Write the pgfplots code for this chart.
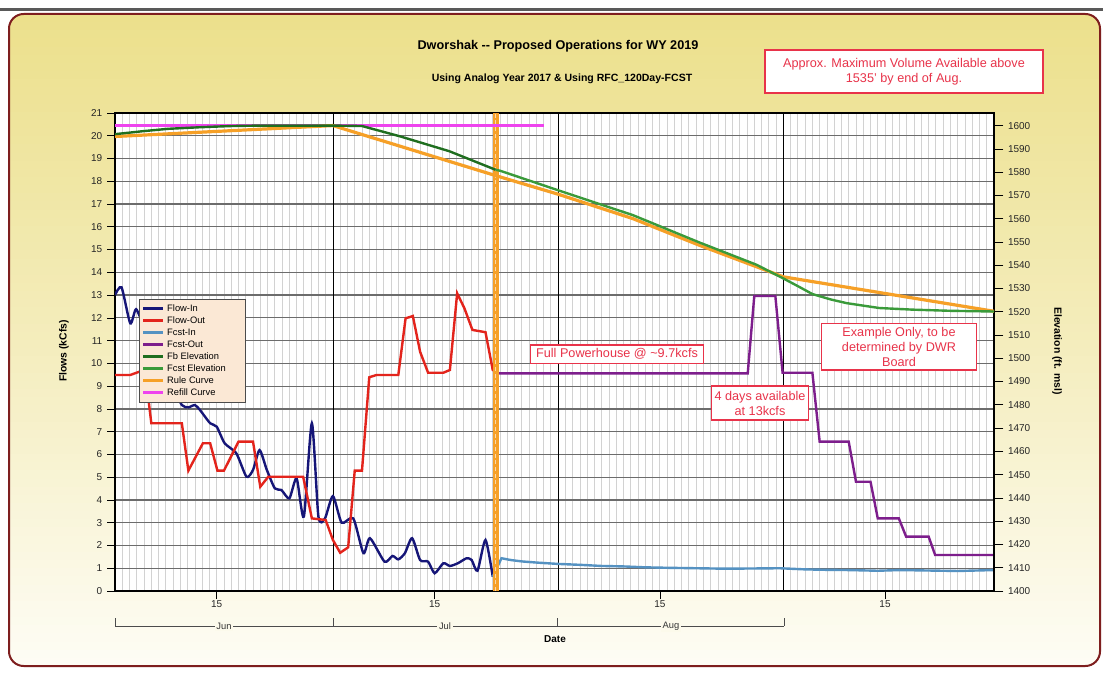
\documentclass[border=0pt]{standalone}
\usepackage{fontspec}
\setmainfont{Liberation Sans}
\usepackage{pgfplots}
\pgfplotsset{compat=1.18}

\definecolor{flowin}{HTML}{161678}
\definecolor{flowout}{HTML}{E3241C}
\definecolor{fcstin}{HTML}{5592C2}
\definecolor{fcstout}{HTML}{7D1E8C}
\definecolor{fbelev}{HTML}{1F6E1F}
\definecolor{fcstelev}{HTML}{3A9A3A}
\definecolor{rulec}{HTML}{F6A027}
\definecolor{refill}{HTML}{EE44EE}
\definecolor{annred}{HTML}{E8334A}
\definecolor{bgtop}{HTML}{ECE08C}
\definecolor{bgmid}{HTML}{F4EDBD}
\definecolor{bgbot}{HTML}{FEFDF6}
\definecolor{framered}{HTML}{7E1E1E}
\definecolor{legbg}{HTML}{FBE8D5}

\begin{document}
\begin{tikzpicture}
% 1 px of the reference = 0.75pt
\useasboundingbox (0,0) rectangle (827.25pt,-505.5pt);
\begin{scope}[x=0.75pt,y=-0.75pt]
  \fill[white] (0,0) rectangle (1103,674);
  \fill[gray!70!black] (0,8) rectangle (1103,11);
  % yellow-to-white panel, built from thin bands
  \begin{scope}
    \clip[rounded corners=11pt] (9,14) rectangle (1100,666);
    \foreach \i in {0,...,79} {
      \pgfmathsetmacro\ya{14+\i*8.15}
      \ifnum\i<40
        \pgfmathtruncatemacro\pc{\i*2.5}
        \fill[bgmid!\pc!bgtop] (0,\ya) rectangle (1103,\ya+8.6);
      \else
        \pgfmathtruncatemacro\pc{(\i-40)*2.5}
        \fill[bgbot!\pc!bgmid] (0,\ya) rectangle (1103,\ya+8.6);
      \fi
    }
  \end{scope}
  \draw[framered, line width=1.5pt, rounded corners=11pt] (9,14) rectangle (1100,666);
  \node[font=\bfseries\fontsize{9.5}{11}\selectfont] at (558,46) {Dworshak {-}{-} Proposed Operations for WY 2019};
  \node[font=\bfseries\fontsize{7.9}{9}\selectfont] at (562,79) {Using Analog Year 2017 \& Using RFC\_120Day-FCST};
  \node[rotate=90, font=\bfseries\fontsize{7.8}{8}\selectfont] at (64,351) {Flows (kCfs)};
  \node[rotate=-90, font=\bfseries\fontsize{7.8}{8}\selectfont] at (1057,351) {Elevation (ft. msl)};
  \node[font=\bfseries\fontsize{7.5}{8}\selectfont] at (555,639) {Date};
  % month bracket
  \draw[gray!60!black, line width=0.6pt] (115,626) -- (784,626);
  \foreach \xx in {115,333,557,784} \draw[gray!60!black, line width=0.6pt] (\xx,618) -- (\xx,626);
  \foreach \xx/\mm in {224/Jun,445/Jul,671/Aug}
    \node[fill=bgbot!80!bgmid, inner sep=1.2pt, font=\fontsize{7}{8}\selectfont, text=gray!40!black] at (\xx,626) {\mm};
\end{scope}

\begin{axis}[
  at={(86.25pt,-443.25pt)}, anchor=south west,
  width=659.25pt, height=358.5pt, scale only axis,
  xmin=0, xmax=121, ymin=0, ymax=21,
  axis background/.style={fill=white},
  axis line style={black, line width=1pt},
  xtick={14,44,75,106}, xticklabels={15,15,15,15},
  minor xtick={0,1,...,121},
  xminorgrids=true, xmajorgrids=false,
  minor grid style={gray!35, line width=0.6pt},
  minor tick length=0pt,
  major tick length=6pt,
  extra x ticks={30,61,92}, extra x tick labels={,,},
  extra x tick style={grid=major, major grid style={black, line width=0.6pt}, tick style={draw=none}},
  ytick={0,1,...,21},
  ymajorgrids=true,
  major grid style={gray!85!black, line width=0.9pt},
  xtick pos=lower, ytick pos=left,
  tick align=outside,
  tick style={black, line width=0.5pt},
  ticklabel style={font=\fontsize{7.5}{8}\selectfont, gray!30!black},
  xticklabel style={yshift=2pt},
  /pgf/number format/assume math mode=true,
]
% Flow-In
\addplot[flowin, line width=1.8pt, smooth, tension=0.4] coordinates {
(0,13.0)(0.9,13.34)(2.1,11.76)(2.9,12.38)(4,11.6)(5,11.0)(6,10.6)(7,10.0)(8,9.0)
(9.2,8.17)(10.1,8.07)(11,8.17)(11.7,7.95)(13.1,7.37)(14,7.22)(15.1,6.49)(16.7,6.05)
(18.1,5.02)(19,5.32)(19.9,6.19)(20.9,5.32)(22,4.51)(22.9,4.44)(24,4.07)(25,4.95)
(26,3.27)(27.1,7.37)(28,3.27)(28.9,3.19)(30,4.17)(31.2,3.0)(32.8,3.19)(34.2,1.66)
(35.1,2.32)(37.1,1.29)(38.2,1.54)(39,1.39)(39.9,1.66)(40.9,2.32)(42,1.36)(43.1,1.29)
(44,0.78)(45.2,1.22)(46.1,1.10)(47.2,1.22)(48.4,1.44)(49.1,1.36)(49.9,0.89)(51,2.24)(52,0.63)
};
% Flow-Out
\addplot[flowout, line width=1.8pt] coordinates {
(0,9.49)(2.1,9.49)(3.4,9.64)(4.2,9.6)(4.7,8.17)(5,7.37)(9.2,7.37)(10.1,5.29)(12.1,6.49)
(13.1,6.49)(14.1,5.29)(15,5.29)(17,6.56)(19,6.56)(20,4.58)(21.1,5.02)(25.9,5.02)(27.1,3.19)
(29,3.12)(30,2.24)(31,1.68)(32.1,1.92)(33,5.29)(34,5.29)(35,9.39)(36,9.49)(39,9.49)
(40,11.98)(41,12.08)(42,10.51)(43.1,9.59)(45.2,9.59)(46.1,9.71)(47.1,13.08)(48.1,12.42)
(49.2,11.47)(51,11.37)(52,9.71)(52.7,9.59)
};
% Fcst-In
\addplot[fcstin, line width=1.8pt] coordinates {
(52,0.63)(53.2,1.44)(54.5,1.36)(56,1.30)(58,1.25)(61,1.19)(64,1.15)(67,1.10)(70,1.08)
(73,1.04)(76,1.02)(80,1.0)(84,0.98)(88,0.99)(91.5,1.0)(95,0.95)(98,0.93)(101,0.92)
(105,0.89)(108,0.92)(112,0.90)(116,0.88)(121,0.92)
};
% Fcst-Out
\addplot[fcstout, line width=1.8pt] coordinates {
(52.6,9.59)(53,9.56)(87.1,9.56)(88,12.96)(90.9,12.96)(91.9,9.59)(96,9.59)(97,6.56)(101,6.56)
(102,4.80)(104,4.80)(105,3.19)(107.9,3.19)(108.9,2.39)(112,2.39)(112.9,1.58)(121,1.58)
};
% current-day marker
\addplot[rulec, line width=4.5pt] coordinates {(52.4,0)(52.4,21)};
\addplot[rulec!40!white, line width=0.7pt, dash pattern=on 3pt off 2pt] coordinates {(52.4,0)(52.4,21)};
\end{axis}

\begin{axis}[
  at={(86.25pt,-443.25pt)}, anchor=south west,
  width=659.25pt, height=358.5pt, scale only axis,
  xmin=0, xmax=121, ymin=1400, ymax=1605.4,
  axis x line=none, axis y line*=right,
  axis line style={black, line width=1pt},
  ytick={1400,1410,...,1600},
  tick align=outside, major tick length=7pt,
  tick style={black, line width=0.5pt},
  ticklabel style={font=\fontsize{7.5}{8}\selectfont, gray!30!black},
  /pgf/number format/assume math mode=true,
  /pgf/number format/1000 sep={},
  legend style={at={(0.0273,0.611)}, anchor=north west, fill=legbg,
    draw=gray!60!black, line width=0.6pt,
    font=\fontsize{7}{8}\selectfont, row sep=1pt,
    nodes={inner ysep=0.6pt, text height=5.3pt, text depth=1.5pt},
    inner xsep=2pt, inner ysep=3pt, cells={anchor=west}},
  legend image code/.code={\draw[#1] (0cm,0cm) -- (0.53cm,0cm);},
]
\addlegendimage{flowin, line width=1.8pt}
\addlegendentry{Flow-In}
\addlegendimage{flowout, line width=1.8pt}
\addlegendentry{Flow-Out}
\addlegendimage{fcstin, line width=1.8pt}
\addlegendentry{Fcst-In}
\addlegendimage{fcstout, line width=1.8pt}
\addlegendentry{Fcst-Out}
\addlegendimage{fbelev, line width=1.8pt}
\addlegendentry{Fb Elevation}
\addlegendimage{fcstelev, line width=1.8pt}
\addlegendentry{Fcst Elevation\hspace*{11pt}}
\addlegendimage{rulec, line width=1.8pt}
\addlegendentry{Rule Curve}
\addlegendimage{refill, line width=1.8pt}
\addlegendentry{Refill Curve}
% Refill Curve
\addplot[refill, line width=1.8pt, forget plot] coordinates {(0,1600)(59,1600)};
% Rule Curve
\addplot[rulec, line width=2.4pt, forget plot] coordinates {
(0,1595.3)(30,1600)(52.4,1578.5)(61,1570.5)(71.3,1560)(80.5,1548.5)(92,1535)(121,1520.2)
};
% Fb Elevation
\addplot[fbelev, line width=1.8pt, forget plot] coordinates {
(0,1596.3)(3.9,1597.6)(7.3,1598.6)(11.8,1599.3)(16,1599.8)(20,1600)(30,1600)(34,1599.8)
(39.2,1595.4)(46,1589)(52.4,1581)
};
% Fcst Elevation
\addplot[fcstelev, line width=1.8pt, forget plot] coordinates {
(52.4,1581)(53,1580.6)(61,1572.2)(71.3,1561.5)(80.5,1549.7)(88.3,1540.2)(92,1534.3)
(94,1531)(96,1527.6)(98.5,1525.3)(100.7,1523.7)(105.2,1521.6)(109.8,1520.9)(115,1520.4)(121,1520.1)
};
\end{axis}

\begin{scope}[x=0.75pt,y=-0.75pt]
  \tikzset{anntext/.style={text=annred, align=center, font=\fontsize{9.5}{11.25}\selectfont}}
  \draw[annred, fill=white, line width=0.8pt] (765,50) rectangle (1043,93);
  \node[anntext] at (904,71.5) {Approx. Maximum Volume Available above\\1535' by end of Aug.};
  \draw[annred, fill=white, line width=0.8pt] (530.7,345) rectangle (703.3,363.3);
  \node[anntext] at (617,354.2) {Full Powerhouse @ \textasciitilde9.7kcfs};
  \draw[annred, fill=white, line width=0.8pt] (711.7,386) rectangle (808.3,420);
  \node[anntext] at (760,403) {4 days available\\at 13kcfs};
  \draw[annred, fill=white, line width=0.8pt] (821.7,323.3) rectangle (976.7,370);
  \node[anntext] at (899,346.7) {Example Only, to be\\determined by DWR\\Board};
\end{scope}
\end{tikzpicture}
\end{document}
